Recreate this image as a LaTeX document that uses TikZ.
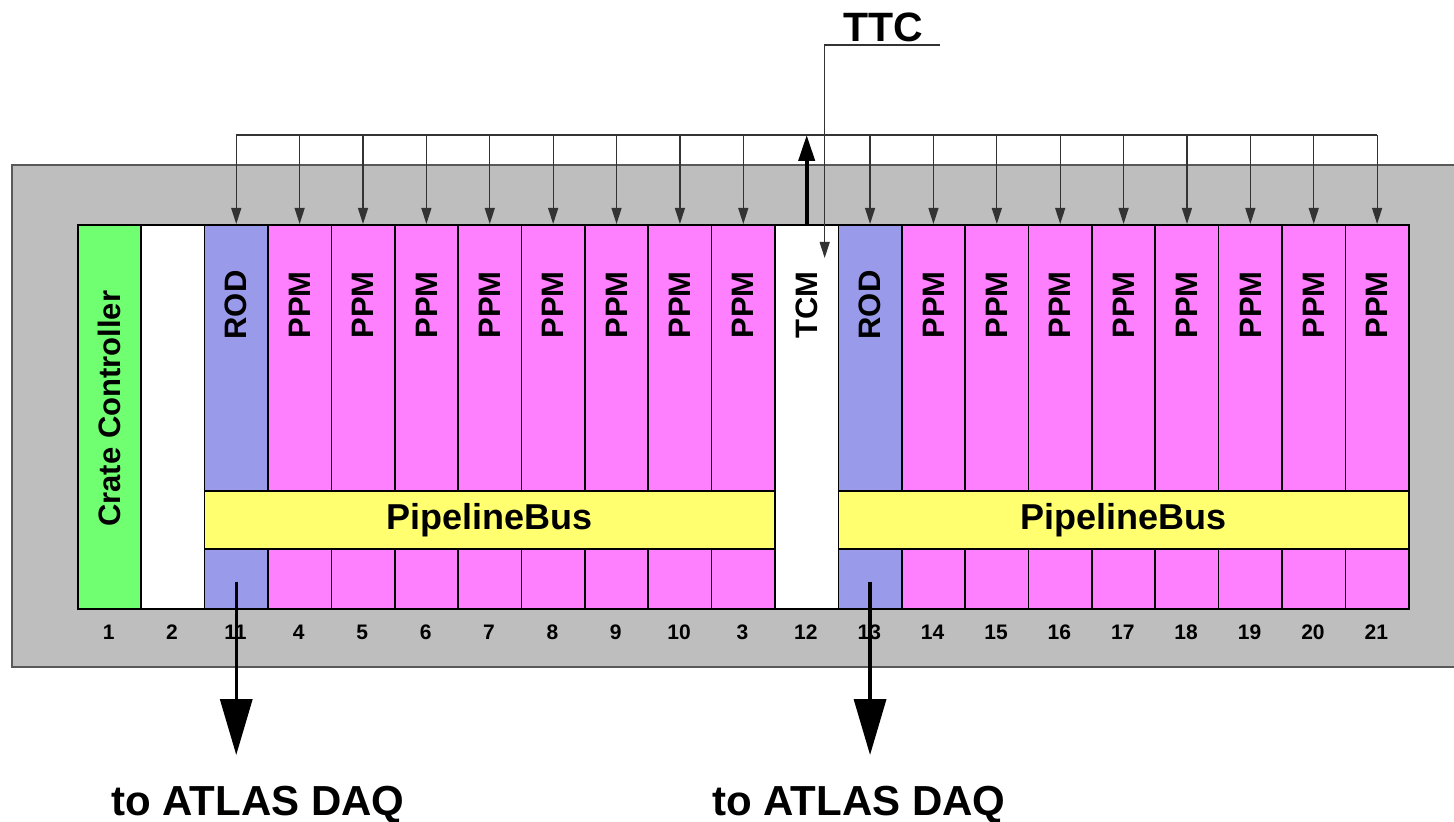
\documentclass[tikz,border=0pt]{standalone}
\usepackage{fontspec}
\setmainfont{Liberation Sans}
\usetikzlibrary{arrows.meta,positioning}
\definecolor{ctrl}{HTML}{70FF70}
\definecolor{rod}{HTML}{9A9AEA}
\definecolor{ppm}{HTML}{FF80FF}
\definecolor{pbus}{HTML}{FFFF70}
\definecolor{crate}{HTML}{BEBEBE}

\begin{document}
\begin{tikzpicture}[x=0.5pt, y=-0.5pt, font=\bfseries,
  card/.style={draw, line width=0.8pt, minimum width=31.69pt, minimum height=192pt,
    inner sep=0pt, anchor=north west},
  cardtxt/.style={rotate=90, inner sep=0pt, font=\bfseries\fontsize{15.5}{18}\selectfont},
  busbox/.style={draw, line width=0.8pt, fill=pbus, minimum width=285.2pt, minimum height=29pt,
    inner sep=0pt, anchor=north west, font=\bfseries\fontsize{18}{21}\selectfont},
  num/.style={inner sep=0pt, font=\bfseries\fontsize{10.5}{12}\selectfont},
  daq/.style={inner sep=0pt, font=\bfseries\fontsize{21}{24}\selectfont},
  busline/.style={line width=0.6pt, draw=black!80},
  sigar/.style={busline, -{Triangle[length=8pt, width=5pt]}},
  upar/.style={line width=2pt, -{Triangle[length=13pt, width=8pt]}},
  daqar/.style={line width=1.75pt, -{Triangle[length=28pt, width=16pt]}}]
  \useasboundingbox (0,0) rectangle (1454,822);
  % crate
  \draw[fill=crate, draw=black!65, line width=1pt] (12,165) rectangle (1480,667);
  % slots
  \foreach \lab/\col [count=\i] in {1/ctrl,2/white,11/rod,4/ppm,5/ppm,6/ppm,7/ppm,8/ppm,
      9/ppm,10/ppm,3/ppm,12/white,13/rod,14/ppm,15/ppm,16/ppm,17/ppm,18/ppm,19/ppm,20/ppm,21/ppm} {
    \node[card, fill=\col] (s\i) at ({77+(\i-1)*63.38},224) {};
    \node[num] (n\i) at ({77+(\i-0.5)*63.38},632) {\lab};
  }
  \node[cardtxt] (t1) at ([yshift=4pt]s1.center) {Crate Controller};
  \foreach \i/\txt in {3/ROD,4/PPM,5/PPM,6/PPM,7/PPM,8/PPM,9/PPM,10/PPM,11/PPM,12/TCM,
      13/ROD,14/PPM,15/PPM,16/PPM,17/PPM,18/PPM,19/PPM,20/PPM,21/PPM}
    \node[cardtxt] (t\i) at ([yshift=-40.5pt]s\i.north) {\txt};
  % pipeline buses
  \node[busbox] (pb1) at (s3.north west |- 0,490) {};
  \node (pbt1) at (pb1.center) {\fontsize{18}{21}\selectfont PipelineBus};
  \node[busbox] (pb2) at (s13.north west |- 0,490) {};
  \node (pbt2) at (pb2.center) {\fontsize{18}{21}\selectfont PipelineBus};
  % TTC distribution
  \coordinate (busL) at (s3.north |- 0,135);
  \coordinate (busR) at (s21.north |- 0,135);
  \draw[busline] (busL) -- (busR);
  \foreach \i in {3,...,11,13,14,...,21}
    \draw[sigar] (s\i.north |- busL) -- (s\i.north);
  \draw[upar] (s12.north) -- (s12.north |- busL);
  \node[inner sep=0pt, font=\bfseries\fontsize{20.5}{24}\selectfont] (ttc) at (883,27) {TTC};
  \coordinate (ttcin) at (940,45);
  \coordinate (tcmin) at ([xshift=9pt,yshift=-17pt]s12.north);
  \draw[sigar] (ttcin) -| (tcmin);
  % readout
  \node[daq] (daq1) at (258,805) {to ATLAS DAQ};
  \node[daq] (daq2) at (859,805) {to ATLAS DAQ};
  \coordinate (rodout1) at ([yshift=14pt]s3.south);
  \coordinate (rodout2) at ([yshift=14pt]s13.south);
  \coordinate (daqend1) at (s3.south |- 0,755);
  \coordinate (daqend2) at (s13.south |- 0,755);
  \draw[daqar] (rodout1) -- (daqend1);
  \draw[daqar] (rodout2) -- (daqend2);
\end{tikzpicture}
\end{document}
